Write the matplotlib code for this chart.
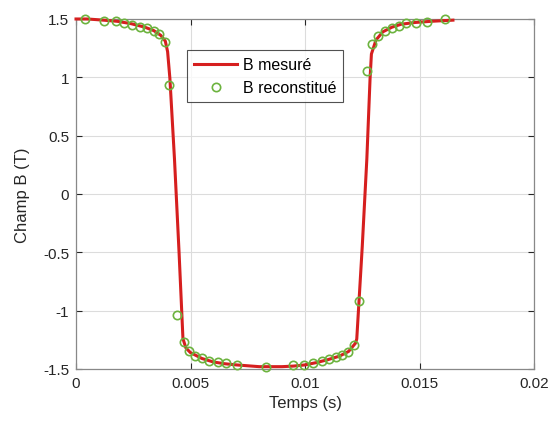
import matplotlib
matplotlib.use("Agg")
import matplotlib.pyplot as plt

plt.rcParams["font.family"] = ["Liberation Sans", "DejaVu Sans"]

t_mes = [0.0, 0.0005, 0.0012, 0.0018, 0.0024, 0.0030, 0.0034, 0.0037, 0.0039,
         0.0040, 0.0041, 0.0043, 0.0045, 0.00467, 0.0048, 0.0050, 0.0055,
         0.0060, 0.0065, 0.0070, 0.0080, 0.0090, 0.0095, 0.0100, 0.0105,
         0.0110, 0.0115, 0.0119, 0.0122, 0.01226, 0.0125, 0.0127, 0.01284,
         0.0129, 0.0131, 0.0134, 0.0138, 0.0142, 0.0148, 0.0155, 0.01646]
b_mes = [1.5, 1.5, 1.49, 1.48, 1.46, 1.43, 1.40, 1.36, 1.31,
         1.22, 0.99, 0.3, -0.5, -1.24, -1.32, -1.36, -1.41,
         -1.44, -1.455, -1.465, -1.48, -1.48, -1.475, -1.465, -1.445,
         -1.42, -1.39, -1.35, -1.28, -1.243, -0.45, 0.3, 0.986,
         1.2, 1.32, 1.39, 1.43, 1.455, 1.47, 1.48, 1.49]

# reconstructed B (markers)
t_rec = [0.00039, 0.00122, 0.00173, 0.00211, 0.00245, 0.00279, 0.00310, 0.00341,
         0.00361, 0.00389, 0.00406, 0.00440, 0.00472, 0.00493, 0.00520, 0.00549,
         0.00581, 0.00619, 0.00654, 0.00704, 0.00828, 0.00946, 0.00996, 0.01036,
         0.01076, 0.01103, 0.01134, 0.01163, 0.01189, 0.01215, 0.01237, 0.01269,
         0.01294, 0.01320, 0.01349, 0.01379, 0.01410, 0.01441, 0.01483, 0.01534,
         0.01611]
b_rec = [1.497, 1.485, 1.483, 1.466, 1.449, 1.434, 1.420, 1.397,
         1.371, 1.303, 0.934, -1.037, -1.271, -1.343, -1.386, -1.408,
         -1.429, -1.443, -1.451, -1.463, -1.480, -1.468, -1.463, -1.451,
         -1.431, -1.417, -1.400, -1.383, -1.352, -1.292, -0.915, 1.052,
         1.286, 1.357, 1.400, 1.423, 1.443, 1.463, 1.468, 1.477,
         1.497]

x_ticks = [0, 0.005, 0.01, 0.015, 0.02]
x_labels = ["0", "0.005", "0.01", "0.015", "0.02"]
y_ticks = [-1.5, -1, -0.5, 0, 0.5, 1, 1.5]
y_labels = ["-1.5", "-1", "-0.5", "0", "0.5", "1", "1.5"]

fig = plt.figure(figsize=(5.52, 4.27), dpi=100)
ax = fig.add_axes([0.1377, 0.1335, 0.8297, 0.8197])

ax.plot(t_mes, b_mes, color="#d61f1f", linewidth=2.2, label="B mesuré",
        zorder=3, clip_on=False)
ax.plot(t_rec, b_rec, linestyle="none", marker="o", markersize=6,
        markerfacecolor="none", markeredgecolor="#6cb33e", markeredgewidth=1.2,
        label="B reconstitué", zorder=4, clip_on=False)

ax.set_xlim(0, 0.02)
ax.set_ylim(-1.5, 1.5)
ax.set_xticks(x_ticks)
ax.set_xticklabels(x_labels)
ax.set_yticks(y_ticks)
ax.set_yticklabels(y_labels)
ax.grid(True, color="#dcdcdc", linewidth=0.8)
ax.set_axisbelow(True)
ax.tick_params(direction="in", length=4, width=0.8, top=True, right=True,
               labelsize=11, colors="#262626", pad=5)
for spine in ax.spines.values():
    spine.set_color("#888888")
    spine.set_linewidth(0.9)

ax.set_xlabel("Temps (s)", fontsize=12, color="#262626", labelpad=4)
ax.set_ylabel("Champ B (T)", fontsize=12, color="#262626", labelpad=9)

leg = ax.legend(loc="upper left", bbox_to_anchor=(0.242, 0.911), borderaxespad=0,
                fontsize=11.5, frameon=True, fancybox=False, edgecolor="#262626",
                handlelength=2.7, borderpad=0.45, labelspacing=0.5,
                handletextpad=0.35)
leg.get_frame().set_linewidth(0.8)

fig.savefig("out.png", dpi=100)
